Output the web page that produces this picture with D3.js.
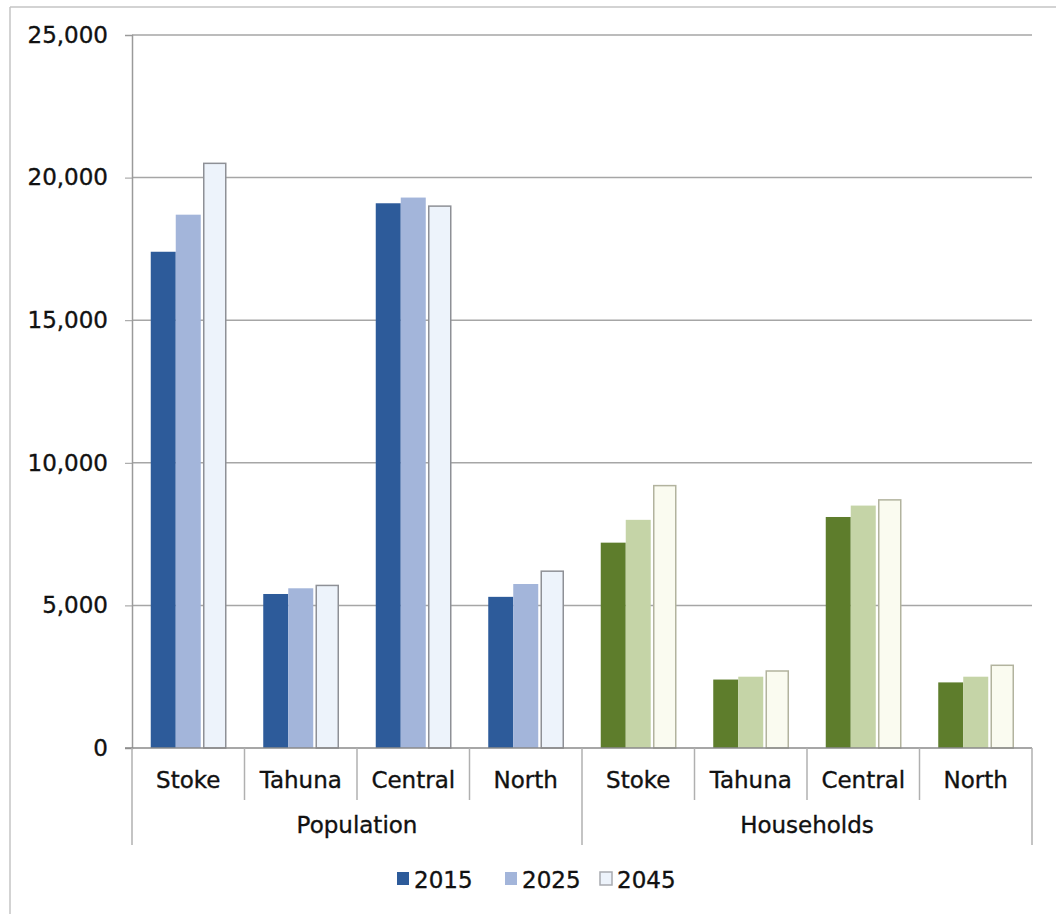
<!DOCTYPE html>
<html>
<head>
<meta charset="utf-8">
<script src="https://cdn.jsdelivr.net/npm/d3@7"></script>
<style>
  html, body { margin: 0; padding: 0; background: #fff; }
  svg { display: block; }
  text { font-family: "DejaVu Sans", Verdana, sans-serif; fill: #111; stroke: #111; stroke-width: 0.35px; }
</style>
</head>
<body>
<svg id="chart" width="1056" height="914"></svg>
<script>
// ---- data ----
const groups = ["Population", "Households"];
const areas = ["Stoke", "Tahuna", "Central", "North"];
const years = ["2015", "2025", "2045"];
const population2015 = [17400, 5400, 19100, 5300];
const population2025 = [18700, 5600, 19300, 5750];
const population2045 = [20500, 5700, 19000, 6200];
const households2015 = [7200, 2400, 8100, 2300];
const households2025 = [8000, 2500, 8500, 2500];
const households2045 = [9200, 2700, 8700, 2900];
const yTicks = [0, 5000, 10000, 15000, 20000, 25000];

(function () {
const seriesByGroup = {
  Population: { "2015": population2015, "2025": population2025, "2045": population2045 },
  Households: { "2015": households2015, "2025": households2025, "2045": households2045 }
};
const colors = {
  Population: { "2015": "#2D5B9A", "2025": "#A3B5DA", "2045": "#EDF3FB" },
  Households: { "2015": "#5E7D2C", "2025": "#C5D4A7", "2045": "#FAFBF0" }
};
const strokes = {
  Population: { "2015": "none", "2025": "none", "2045": "#8E9096" },
  Households: { "2015": "none", "2025": "none", "2045": "#B2B39E" }
};

const rows = [];
groups.forEach(g => areas.forEach((a, i) => {
  years.forEach(yr => rows.push({ key: g + "|" + a, group: g, area: a, year: yr, value: seriesByGroup[g][yr][i] }));
}));
const keys = [];
groups.forEach(g => areas.forEach(a => keys.push(g + "|" + a)));

// ---- layout ----
const svg = d3.select("#chart");
const mLeft = 132, mRight = 1032, mTop = 35, mBottom = 748;

svg.append("line").attr("x1", 10).attr("x2", 10).attr("y1", 7).attr("y2", 914).attr("stroke", "#c4c4c4").attr("stroke-width", 1.5);
svg.append("line").attr("x1", 10).attr("x2", 1056).attr("y1", 7).attr("y2", 7).attr("stroke", "#c4c4c4").attr("stroke-width", 1.5);

const y = d3.scaleLinear().domain([0, 25000]).range([mBottom, mTop]);
const x0 = d3.scaleBand().domain(keys).range([mLeft, mRight]).padding(0);
const x1 = d3.scaleBand().domain(years).range([0, x0.bandwidth()]).paddingInner(0).paddingOuter(0.75);

// gridlines
svg.append("g").selectAll("line").data(yTicks.filter(t => t > 0)).join("line")
  .attr("x1", mLeft).attr("x2", mRight)
  .attr("y1", d => y(d)).attr("y2", d => y(d))
  .attr("stroke", "#a6a6a6").attr("stroke-width", 1.5);

// y axis
const yAxis = svg.append("g").attr("transform", `translate(${mLeft},0)`)
  .call(d3.axisLeft(y).tickValues(yTicks).tickFormat(d3.format(",")).tickSize(7).tickPadding(17));
yAxis.select(".domain").attr("stroke", "#9a9a9a").attr("stroke-width", 1.5);
yAxis.selectAll(".tick line").attr("stroke", "#9a9a9a");
yAxis.selectAll(".tick text").style("font-size", "23px").attr("fill", "#111")
  .style("font-family", '"DejaVu Sans", Verdana, sans-serif');

// bars
svg.append("g").selectAll("rect").data(rows).join("rect")
  .attr("x", d => x0(d.key) + x1(d.year) + (d.year === "2045" ? 3 : 0))
  .attr("width", d => x1.bandwidth() - (d.year === "2045" ? 3 : 0))
  .attr("y", d => y(d.value))
  .attr("height", d => y(0) - y(d.value))
  .attr("fill", d => colors[d.group][d.year])
  .attr("stroke", d => strokes[d.group][d.year])
  .attr("stroke-width", 1.5);

// x baseline
svg.append("line").attr("x1", mLeft - 7).attr("x2", mRight).attr("y1", mBottom).attr("y2", mBottom)
  .attr("stroke", "#8a8a8a").attr("stroke-width", 1.5);

// category separators
const sepX = keys.map(k => x0(k)).concat([mRight]);
svg.append("g").selectAll("line").data(sepX).join("line")
  .attr("x1", d => d).attr("x2", d => d)
  .attr("y1", mBottom)
  .attr("y2", (d, i) => (i % 4 === 0) ? 845 : 800)
  .attr("stroke", "#b0b0b0").attr("stroke-width", 1.5);

// category labels
svg.append("g").selectAll("text").data(keys).join("text")
  .attr("x", d => x0(d) + x0.bandwidth() / 2)
  .attr("y", 788)
  .attr("text-anchor", "middle")
  .style("font-size", "23px")
  .text(d => d.split("|")[1]);

// group labels
svg.append("g").selectAll("text").data(groups).join("text")
  .attr("x", g => (x0(g + "|" + areas[0]) + x0(g + "|" + areas[areas.length - 1]) + x0.bandwidth()) / 2)
  .attr("y", 833)
  .attr("text-anchor", "middle")
  .style("font-size", "23px")
  .text(g => g);

// legend
const legendX = [397, 505, 600];
const lg = svg.append("g").selectAll("g").data(years).join("g")
  .attr("transform", (d, i) => `translate(${legendX[i]},872)`);
lg.append("rect").attr("width", 12).attr("height", 13)
  .attr("fill", d => colors.Population[d])
  .attr("stroke", d => d === "2045" ? "#a8aab0" : "none").attr("stroke-width", 1.5);
lg.append("text").attr("x", 17).attr("y", 16).style("font-size", "23px").text(d => d);
})();
</script>
</body>
</html>
